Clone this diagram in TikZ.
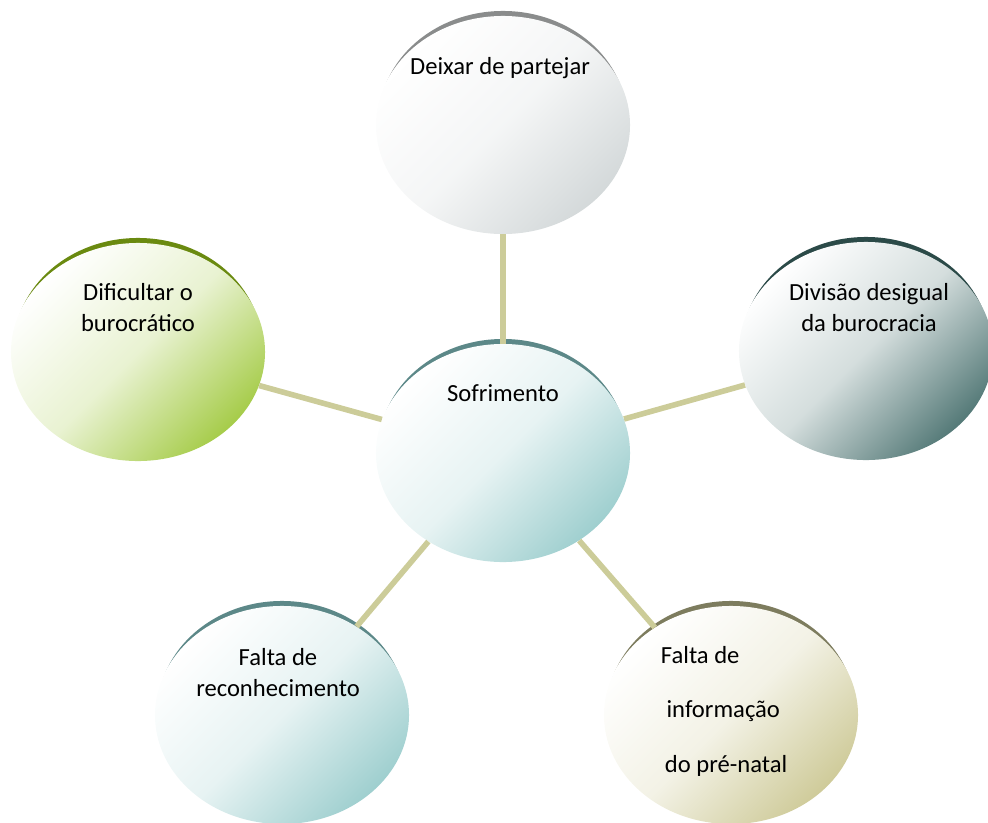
\documentclass[tikz,border=0pt]{standalone}
\usepackage{fontspec}
\setmainfont{Carlito}
\usetikzlibrary{shapes.geometric}
\definecolor{linktan}{HTML}{CCCC99}
\definecolor{greyfill}{HTML}{D4D9DA}
\definecolor{greyrim}{HTML}{8A8C8C}
\definecolor{tealfill}{HTML}{9FCFCF}
\definecolor{tealrim}{HTML}{5C8888}
\definecolor{leaffill}{HTML}{A6CC4A}
\definecolor{leafrim}{HTML}{6A8A10}
\definecolor{slatefill}{HTML}{557A78}
\definecolor{slaterim}{HTML}{2B4A48}
\definecolor{olivefill}{HTML}{CFCB9A}
\definecolor{oliverim}{HTML}{7D7C5E}
\tikzset{
  bubble/.style={ellipse, inner sep=0pt, minimum width=6.35cm, minimum height=5.45cm,
    top color=white, bottom color=#1, middle color=#1!25!white, shading angle=45},
  rim/.style={fill=#1},
  lbl/.style={anchor=base, align=center, font=\fontsize{17.5}{22}\selectfont},
  link/.style={draw=linktan, line width=0.14cm}
}
\begin{document}
\begin{tikzpicture}[x=0.025cm, y=-0.025cm]
      \useasboundingbox (0,0) rectangle (988,823);
      % dark rims peeking above each bubble
      \foreach \x/\y/\c in {503/125/greyrim, 503/453/tealrim, 138/352/leafrim,
          866/351/slaterim, 282/715/tealrim, 731/715/oliverim}
        \fill[rim=\c] (\x,\y-5) ellipse [x radius=3.1cm, y radius=2.725cm];
      \node[bubble=greyfill] (partejar) at (503,125) {};
      \node[bubble=tealfill] (sofrimento) at (503,453) {};
      \node[bubble=leaffill] (dificultar) at (138,352) {};
      \node[bubble=slatefill] (divisao) at (866,351) {};
      \node[bubble=tealfill] (reconhecimento) at (282,715) {};
      \node[bubble=olivefill] (informacao) at (731,715) {};
      \draw[link] (sofrimento) -- (partejar);
      \draw[link] (sofrimento) -- (dificultar);
      \draw[link] (sofrimento) -- (divisao);
      \draw[link] (sofrimento) -- (reconhecimento);
      \draw[link] (sofrimento) -- (informacao);
      \node[lbl] (t-sofrimento) at (503,401) {Sofrimento};
      \node[lbl] (t-partejar) at (500,74) {Deixar de partejar};
      \node[lbl] (t-dificultar) at (138,331) {Dificultar o\\burocrático};
      \node[lbl] (t-divisao) at (869,331) {Divisão desigual\\da burocracia};
      \node[lbl] (t-reconhecimento) at (278,696) {Falta de\\reconhecimento};
      \node[lbl, anchor=base west, align=left, font=\fontsize{17.5}{38.5}\selectfont] (t-informacao) at (656,772)
        {Falta de\\\hspace{0.14cm}informação\\\hspace{0.1cm}do pré-natal};
    \end{tikzpicture}
\end{document}
